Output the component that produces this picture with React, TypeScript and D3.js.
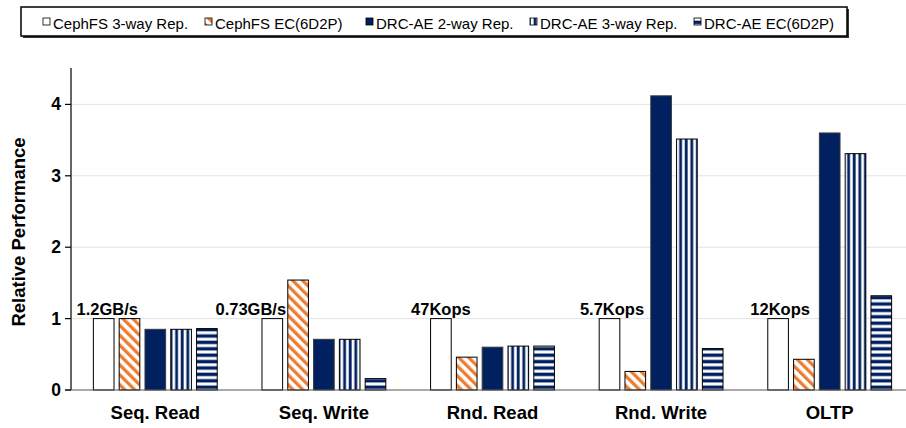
import React from "react";
import * as d3 from "d3";

const categories = ["Seq. Read", "Seq. Write", "Rnd. Read", "Rnd. Write", "OLTP"];
const seriesNames = [
  "CephFS 3-way Rep.",
  "CephFS EC(6D2P)",
  "DRC-AE 2-way Rep.",
  "DRC-AE 3-way Rep.",
  "DRC-AE EC(6D2P)",
];
const cephRep = [1, 1, 1, 1, 1];
const cephEC = [1.0, 1.54, 0.46, 0.26, 0.43];
const drcRep2 = [0.85, 0.71, 0.6, 4.12, 3.6];
const drcRep3 = [0.85, 0.71, 0.615, 3.515, 3.31];
const drcEC = [0.86, 0.16, 0.615, 0.58, 1.32];
const baselineLabels = ["1.2GB/s", "0.73GB/s", "47Kops", "5.7Kops", "12Kops"];
const yTicks = [0, 1, 2, 3, 4];

const seriesValues = [cephRep, cephEC, drcRep2, drcRep3, drcEC];
const fills = ["#ffffff", "url(#pDiag)", "#002060", "url(#pVert)", "url(#pHoriz)"];
const strokes = ["#000", "#000", "#3a3a3a", "#000", "#000"];
const labelShift = [3.5, -21.5, 0, 2.5, 2];
const legendX = [43, 205, 366, 530, 694];

const W = 906;
const H = 428;
const NAVY = "#002060";
const ORANGE = "#ED7D31";

export default function App() {
  const x0 = d3.scaleBand<string>().domain(categories).range([71, 914]).padding(0);
  const x1 = d3
    .scaleBand<string>()
    .domain(seriesNames)
    .range([0, 129])
    .paddingInner(0.2)
    .paddingOuter(0.1);
  const y = d3.scaleLinear().domain([0, 4]).range([390, 104.4]);
  const off = (c: string) => (x0(c) as number) + x0.bandwidth() / 2 - 64.5;
  const font = "'Liberation Sans', Arial, sans-serif";

  return (
    <svg
      width={W}
      height={H}
      style={{ position: "absolute", left: 0, top: 0, background: "#fff" }}
      fontFamily={font}
    >
      <defs>
        <pattern id="pDiag" patternUnits="userSpaceOnUse" width={7} height={7} patternTransform="rotate(-45)">
          <rect width={7} height={7} fill="#fff" />
          <rect width={3.3} height={7} fill={ORANGE} />
        </pattern>
        <pattern id="pVert" patternUnits="userSpaceOnUse" width={5.6} height={10}>
          <rect width={5.6} height={10} fill="#fff" />
          <rect x={1.6} width={2.8} height={10} fill={NAVY} />
        </pattern>
        <pattern id="pHoriz" patternUnits="userSpaceOnUse" width={10} height={6.4}>
          <rect width={10} height={6.4} fill="#fff" />
          <rect y={1.5} width={10} height={3.4} fill={NAVY} />
        </pattern>
      </defs>
      <rect width={W} height={H} fill="#fff" />

      {/* legend */}
      <rect x={23} y={9} width={826} height={29} fill="#333" />
      <rect x={21} y={7} width={826} height={29} fill="#fff" stroke="#000" strokeWidth={1.5} />
      {seriesNames.map((s, i) => (
        <g key={s}>
          <rect x={legendX[i]} y={18} width={7} height={7} fill={fills[i]} stroke="#000" strokeWidth={0.8} />
          <text x={legendX[i] + 10} y={28.5} fontSize={15} fill="#000">
            {s}
          </text>
        </g>
      ))}

      {/* gridlines */}
      {yTicks
        .filter((t) => t > 0)
        .map((t) => (
          <line key={t} x1={71} x2={906} y1={y(t)} y2={y(t)} stroke="#e3e3e3" strokeWidth={1} />
        ))}

      {/* bars */}
      {categories.map((c, ci) => (
        <g key={c}>
          {seriesNames.map((s, si) => {
            const v = seriesValues[si][ci];
            const bx = off(c) + (x1(s) as number);
            return (
              <rect
                key={s}
                x={bx}
                y={y(v)}
                width={x1.bandwidth()}
                height={y(0) - y(v)}
                fill={fills[si]}
                stroke={strokes[si]}
                strokeWidth={1}
              />
            );
          })}
        </g>
      ))}

      {/* axes */}
      <line x1={71} x2={71} y1={68} y2={390} stroke="#666" strokeWidth={2} />
      <line x1={65} x2={906} y1={390} y2={390} stroke="#555" strokeWidth={1.2} />
      {yTicks.map((t) => (
        <g key={t}>
          <line x1={65} x2={71} y1={y(t)} y2={y(t)} stroke="#000" strokeWidth={1.2} />
          <text x={61} y={y(t) + 6} textAnchor="end" fontSize={17.5} fontWeight="bold">
            {t}
          </text>
        </g>
      ))}
      <text
        transform={`translate(25,232) rotate(-90)`}
        textAnchor="middle"
        fontSize={18.5}
        fontWeight="bold"
      >
        Relative Performance
      </text>

      {categories.map((c) => (
        <text
          key={c}
          x={(x0(c) as number) + x0.bandwidth() / 2}
          y={419}
          textAnchor="middle"
          fontSize={18.5}
          fontWeight="bold"
        >
          {c}
        </text>
      ))}

      {categories.map((c, ci) => (
        <text
          key={c}
          x={off(c) + (x1(seriesNames[0]) as number) + x1.bandwidth() / 2 + labelShift[ci]}
          y={315}
          textAnchor="middle"
          fontSize={16.5}
          fontWeight="bold"
        >
          {baselineLabels[ci]}
        </text>
      ))}
    </svg>
  );
}
